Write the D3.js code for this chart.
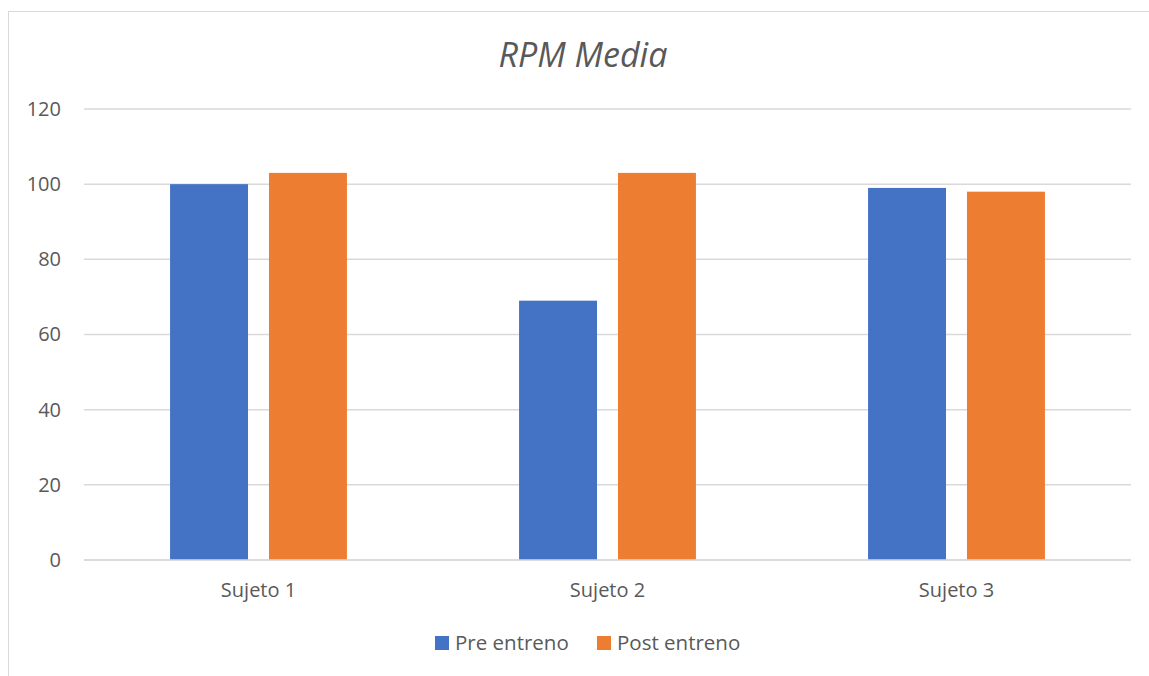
<!DOCTYPE html>
<html>
<head>
<meta charset="utf-8">
<script src="https://cdn.jsdelivr.net/npm/d3@7"></script>
<style>
  body { margin: 0; background: #fff; }
  svg { display: block; font-family: "Open Sans", "Noto Sans", sans-serif; }
</style>
</head>
<body>
<svg id="chart" width="1149" height="676"></svg>
<script>
var categories = ["Sujeto 1", "Sujeto 2", "Sujeto 3"]
var seriesNames = ["Pre entreno", "Post entreno"]
var preValues = [100, 69, 99]
var postValues = [103, 103, 98]
var yTicks = [0, 20, 40, 60, 80, 100, 120]
var colours = ["#4472c4", "#ed7d31"]

var width = 1149, height = 676
var margin = {top: 109, right: 18, bottom: 116, left: 84}

var svg = d3.select("#chart")

// chart area border
svg.append("rect")
  .attr("x", 8.5).attr("y", 11.5)
  .attr("width", width + 10).attr("height", height + 10)
  .attr("fill", "none").attr("stroke", "#d9d9d9").attr("stroke-width", 1)

var xScale = d3.scaleBand()
  .domain(categories)
  .range([margin.left, width - margin.right])

var xInner = d3.scaleBand()
  .domain(seriesNames)
  .range([0, xScale.bandwidth()])
  .paddingInner(0.212)
  .paddingOuter(0.87)

var yScale = d3.scaleLinear()
  .domain([0, 120])
  .range([height - margin.bottom, margin.top])

// gridlines
svg.append("g")
  .selectAll("line")
  .data(yTicks)
  .join("line")
    .attr("x1", margin.left).attr("x2", width - margin.right)
    .attr("y1", d => yScale(d)).attr("y2", d => yScale(d))
    .attr("stroke", "#d9d9d9").attr("stroke-width", 1.5)

// y axis labels
var yAxis = d3.axisLeft(yScale).tickValues(yTicks).tickSize(0).tickPadding(23)
svg.append("g")
  .attr("transform", "translate(" + margin.left + ",0)")
  .call(yAxis)
  .call(g => g.select(".domain").remove())
  .selectAll("text")
    .attr("font-size", 20).attr("fill", "#595959")
    .attr("font-family", "\"Open Sans\", sans-serif")

// bars
var rows = categories.map((c, i) => ({cat: c, vals: [preValues[i], postValues[i]]}))
var groups = svg.append("g")
  .selectAll("g")
  .data(rows)
  .join("g")
    .attr("transform", d => "translate(" + xScale(d.cat) + ",0)")

groups.selectAll("rect")
  .data(d => d.vals.map((v, j) => ({name: seriesNames[j], value: v, j: j})))
  .join("rect")
    .attr("x", d => xInner(d.name))
    .attr("width", xInner.bandwidth())
    .attr("y", d => yScale(d.value))
    .attr("height", d => yScale(0) - yScale(d.value))
    .attr("fill", d => colours[d.j])

// baseline
svg.append("line")
  .attr("x1", margin.left).attr("x2", width - margin.right)
  .attr("y1", yScale(0)).attr("y2", yScale(0))
  .attr("stroke", "#d9d9d9").attr("stroke-width", 1.5)

// x axis labels
var xAxis = d3.axisBottom(xScale).tickSize(0).tickPadding(23)
svg.append("g")
  .attr("transform", "translate(0," + yScale(0) + ")")
  .call(xAxis)
  .call(g => g.select(".domain").remove())
  .selectAll("text")
    .attr("font-size", 20).attr("fill", "#595959")
    .attr("font-family", "\"Open Sans\", sans-serif")

// title
svg.append("text")
  .attr("x", 583).attr("y", 67)
  .attr("text-anchor", "middle")
  .attr("font-size", 34).attr("font-style", "italic")
  .attr("fill", "#595959")
  .text("RPM Media")

// legend
var legendX = [435, 597]
var legend = svg.append("g")
  .selectAll("g")
  .data(seriesNames)
  .join("g")
    .attr("transform", (d, i) => "translate(" + legendX[i] + ",636)")
legend.append("rect")
  .attr("width", 14).attr("height", 14)
  .attr("fill", (d, i) => colours[i])
legend.append("text")
  .attr("x", 20).attr("y", 14)
  .attr("font-size", 20.5).attr("fill", "#595959")
  .text(d => d)
</script>
</body>
</html>
